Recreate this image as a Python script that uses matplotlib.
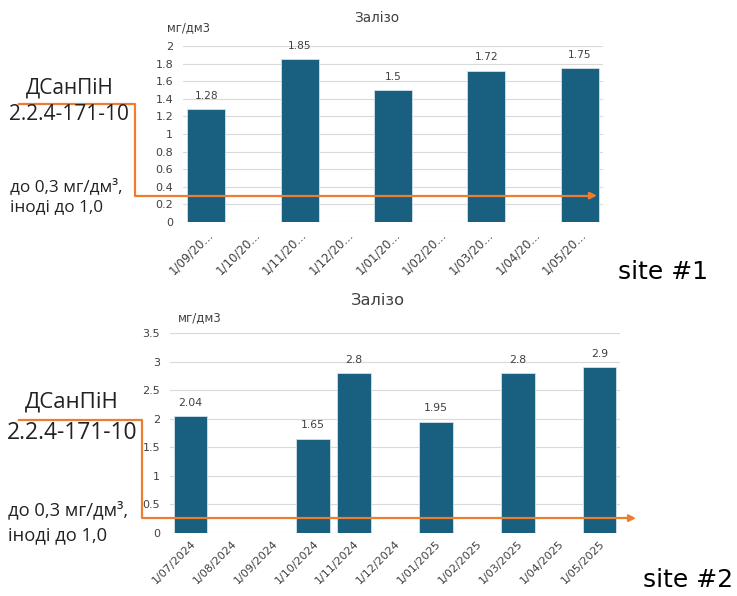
import matplotlib.pyplot as plt
import numpy as np

# site #1
dates1 = ["1/09/20...", "1/10/20...", "1/11/20...", "1/12/20...", "1/01/20...",
          "1/02/20...", "1/03/20...", "1/04/20...", "1/05/20..."]
iron1 = [1.28, np.nan, 1.85, np.nan, 1.5, np.nan, 1.72, np.nan, 1.75]
limit1 = 0.3

# site #2
dates2 = ["1/07/2024", "1/08/2024", "1/09/2024", "1/10/2024", "1/11/2024",
          "1/12/2024", "1/01/2025", "1/02/2025", "1/03/2025", "1/04/2025",
          "1/05/2025"]
iron2 = [2.04, np.nan, np.nan, 1.65, 2.8, np.nan, 1.95, np.nan, 2.8, np.nan, 2.9]
limit2 = 0.26

BAR = "#185f80"
ORANGE = "#ed7d31"
GRID = "#d9d9d9"
TXT = "#404040"

W, H = 737, 596
fig = plt.figure(figsize=(W / 100, H / 100), dpi=100)


def px_ax(left, top, right, bottom):
    return fig.add_axes([left / W, 1 - bottom / H, (right - left) / W, (bottom - top) / H])


def draw_chart(ax, dates, values, ymax, ystep, ytick_fs, xtick_fs, label_fs):
    x = np.arange(len(dates))
    ax.bar(x, values, width=0.82, color=BAR, edgecolor="#d3e3ec", linewidth=0.6, zorder=3)
    for xi, v in zip(x, values):
        if not np.isnan(v):
            ax.annotate(f"{v:g}", (xi, v), xytext=(0, 6), textcoords="offset points",
                        ha="center", va="bottom", fontsize=label_fs, color=TXT)
    ticks = np.arange(0, ymax + ystep / 2, ystep)
    ax.set_xlim(-0.5, len(dates) - 0.5)
    ax.set_ylim(0, ymax)
    ax.set_yticks(ticks)
    ax.set_yticklabels([f"{t:g}" for t in ticks])
    ax.yaxis.grid(True, color=GRID, linewidth=0.8, zorder=0)
    for s in ax.spines.values():
        s.set_visible(False)
    ax.tick_params(length=0, labelcolor=TXT)
    ax.tick_params(axis="y", labelsize=ytick_fs, pad=7)
    ax.set_xticks(x)
    ax.set_xticklabels(dates, rotation=45, ha="right", va="top", rotation_mode="anchor")
    ax.tick_params(axis="x", labelsize=xtick_fs, pad=4)


def draw_norm(ax, limit, y_text, x_turn, x_end, texts):
    # orange guide from the norm label down to the limit level
    y_lim_px = H - ax.transData.transform((0, limit))[1]
    xs = np.array([19, x_turn, x_turn, x_end - 8]) / W
    ys = 1 - np.array([y_text, y_text, y_lim_px, y_lim_px]) / H
    fig.add_artist(plt.Line2D(xs, ys, color=ORANGE, linewidth=1.6, transform=fig.transFigure))
    ax.annotate("", xy=(x_end / W, ys[-1]), xytext=(xs[-1] - 0.001, ys[-1]),
                xycoords="figure fraction", textcoords="figure fraction",
                arrowprops=dict(arrowstyle="-|>", color=ORANGE, lw=1.6,
                                mutation_scale=10, shrinkA=0, shrinkB=0))
    for txt, (tx, ty, fs, ha) in texts:
        fig.text(tx / W, 1 - ty / H, txt, ha=ha, va="center", fontsize=fs,
                 family="Open Sans", color="#222222")


ax1 = px_ax(183, 46, 603, 222)
draw_chart(ax1, dates1, iron1, 2, 0.2, 8, 8.5, 7.7)
fig.text(377 / W, 1 - 18 / H, "Залізо", ha="center", va="center", fontsize=9.8, color=TXT)
fig.text(167 / W, 1 - 28 / H, "мг/дм3", fontsize=8.4, color=TXT, va="center")

ax2 = px_ax(170, 333, 620, 533)
draw_chart(ax2, dates2, iron2, 3.5, 0.5, 8, 8, 7.8)
fig.text(378 / W, 1 - 300 / H, "Залізо", ha="center", va="center", fontsize=11.7, color=TXT)
fig.text(178 / W, 1 - 318 / H, "мг/дм3", fontsize=8.5, color=TXT, va="center")

fig.canvas.draw()

draw_norm(ax1, limit1, 104, 135, 597, [
    ("ДСанПіН", (70, 88, 15, "center")),
    ("2.2.4-171-10", (69, 115, 15, "center")),
    ("до 0,3 мг/дм³,", (10, 187, 12.3, "left")),
    ("іноді до 1,0", (10, 207, 12.3, "left")),
])
draw_norm(ax2, limit2, 420, 142, 636, [
    ("ДСанПіН", (72, 402, 16, "center")),
    ("2.2.4-171-10", (72, 433, 16.5, "center")),
    ("до 0,3 мг/дм³,", (8, 510, 13.2, "left")),
    ("іноді до 1,0", (8, 535, 13.2, "left")),
])

fig.text(708 / W, 1 - 272 / H, "site #1", ha="right", va="center", fontsize=18, color="black")
fig.text(733 / W, 1 - 580 / H, "site #2", ha="right", va="center", fontsize=18, color="black")

fig.savefig("out.png", dpi=100)
